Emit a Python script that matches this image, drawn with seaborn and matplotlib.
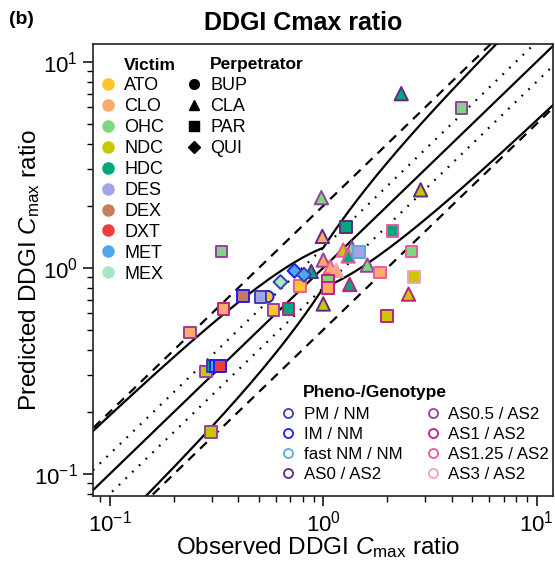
import numpy as np
import pandas as pd
import matplotlib
matplotlib.use("Agg")
import matplotlib.pyplot as plt
from matplotlib.lines import Line2D
import seaborn as sns

# ================================
# DATA
# ================================
observed = [2.32, 4.45, 2.86, 1.28, 2.11, 2.59, 1.85, 2.67, 2.51, 1.99,
            0.98, 0.99, 1.24, 1.36, 1.31, 1.47, 1.00, 1.61, 1.08, 1.15,
            0.733, 0.812, 0.879, 0.63, 0.78, 1.05, 1.05, 1.33, 1.00, 0.687,
            0.42, 0.508, 0.536, 0.55, 0.584, 0.34, 0.238, 0.334, 0.282, 0.302,
            0.315, 0.328, 0.298]
predicted = [7.0, 5.96, 2.39, 1.58, 1.51, 1.20, 0.95, 0.904, 0.745, 0.585,
             2.19, 1.42, 1.22, 1.25, 1.14, 1.19, 1.09, 1.03, 1.01, 0.97,
             0.967, 0.925, 0.96, 0.853, 0.818, 0.868, 0.80, 0.83, 0.667, 0.632,
             0.731, 0.721, 0.725, 0.725, 0.625, 0.632, 0.485, 1.20, 0.314, 0.334,
             0.334, 0.334, 0.159]
victim = ["HDC", "OHC", "NDC", "HDC", "HDC", "OHC", "CLO", "NDC", "NDC", "NDC",
          "OHC", "CLO", "NDC", "OHC", "HDC", "DES", "CLO", "OHC", "CLO", "CLO",
          "MET", "MET", "HDC", "MEX", "ATO", "OHC", "CLO", "HDC", "NDC", "HDC",
          "DEX", "DES", "ATO", "ATO", "ATO", "CLO", "CLO", "OHC", "NDC", "HDC",
          "MET", "DXT", "NDC"]
perpetrator = ["CLA", "PAR", "CLA", "PAR", "PAR", "PAR", "PAR", "PAR", "CLA", "PAR",
               "CLA", "CLA", "CLA", "CLA", "CLA", "PAR", "CLA", "CLA", "CLA", "CLA",
               "QUI", "QUI", "CLA", "QUI", "PAR", "PAR", "PAR", "CLA", "CLA", "PAR",
               "PAR", "PAR", "BUP", "BUP", "PAR", "PAR", "PAR", "PAR", "PAR", "PAR",
               "PAR", "PAR", "PAR"]
genotype = ["AS0 / AS2", "AS0.5 / AS2", "AS0 / AS2", "AS0 / AS2", "AS1.25 / AS2",
            "AS1.25 / AS2", "AS1.25 / AS2", "AS3 / AS2", "AS1 / AS2", "AS1 / AS2",
            "AS0.5 / AS2", "AS0 / AS2", "AS1.25 / AS2", "AS0.5 / AS2", "AS1.25 / AS2",
            "fast NM / NM", "AS0.5 / AS2", "AS0.5 / AS2", "AS1.25 / AS2", "AS3 / AS2",
            "IM / NM", "PM / NM", "AS0 / AS2", "PM / NM", "AS1.25 / AS2",
            "AS1 / AS2", "AS1 / AS2", "AS1 / AS2", "AS0 / AS2", "AS1 / AS2",
            "IM / NM", "PM / NM", "PM / NM", "IM / NM", "AS0.5 / AS2",
            "AS1 / AS2", "AS0.5 / AS2", "AS0.5 / AS2", "AS0.5 / AS2", "PM / NM",
            "IM / NM", "IM / NM", "AS0.5 / AS2"]

victim_names = ["ATO", "CLO", "OHC", "NDC", "HDC", "DES", "DEX", "DXT", "MET", "MEX"]
victim_colors = ["#FFC425", "#FDAA6A", "#7ED87E", "#C8C800", "#00A67E",
                 "#A3A3E6", "#C97B5C", "#F03C3C", "#4FA8EE", "#A6E8C6"]
perp_names = ["BUP", "CLA", "PAR", "QUI"]
perp_markers = ["o", "^", "s", "D"]
perp_sizes = [66, 92, 70, 50]
geno_names = ["PM / NM", "IM / NM", "fast NM / NM", "AS0 / AS2",
              "AS0.5 / AS2", "AS1 / AS2", "AS1.25 / AS2", "AS3 / AS2"]
geno_colors = ["#3C3CB4", "#1E1EF0", "#5AAAD8", "#5E2A84",
               "#9440A0", "#C0207F", "#EA5A9E", "#F7A0BE"]

df = pd.DataFrame({"Observed": observed, "Predicted": predicted, "Victim": victim,
                   "Perpetrator": perpetrator, "Genotype": genotype})
vpal = dict(zip(victim_names, victim_colors))
gpal = dict(zip(geno_names, geno_colors))

# ================================
# FIGURE
# ================================
sns.set_theme(style="ticks", rc={"text.color": "black", "axes.labelcolor": "black",
                                 "xtick.color": "black", "ytick.color": "black",
                                 "axes.edgecolor": "black"})
plt.rcParams["font.family"] = ["Liberation Sans", "DejaVu Sans"]
plt.rcParams["mathtext.fontset"] = "custom"
plt.rcParams["mathtext.rm"] = "Liberation Sans"
plt.rcParams["mathtext.it"] = "Liberation Sans:italic"

fig = plt.figure(figsize=(5.55, 5.62), dpi=100)
ax = fig.add_axes([92.7 / 555, 1 - 496 / 562, 460 / 555, 452 / 562])

# reference lines (identity, 1.25-fold, 2-fold, Guest limits)
r = np.logspace(np.log10(0.03), np.log10(30), 600)
rr = np.where(r >= 1, r, 1 / r)
lim = (1.25 + 2 * (rr - 1)) / rr
ax.plot(r, r, color="black", lw=1.6)
ax.plot(r, r * lim, color="black", lw=1.6)
ax.plot(r, r / lim, color="black", lw=1.6)
for f in [1.25, 0.8]:
    ax.plot(r, r * f, color="black", lw=1.6, dashes=(0.8, 3.4))
for f in [2, 0.5]:
    ax.plot(r, r * f, color="black", lw=1.6, dashes=(4.2, 3.2))

for p, m, s in zip(perp_names, perp_markers, perp_sizes):
    sub = df[df["Perpetrator"] == p]
    sns.scatterplot(data=sub, x="Observed", y="Predicted", hue="Victim", palette=vpal,
                    marker=m, s=s, linewidth=1.4,
                    edgecolor=[gpal[g] for g in sub["Genotype"]],
                    legend=False, ax=ax, zorder=3)

ax.set_xscale("log")
ax.set_yscale("log")
ax.set_xlim(0.083, 11.9)
ax.set_ylim(0.078, 12.2)
for sp in ax.spines.values():
    sp.set_linewidth(1.2)
    sp.set_color("#222222")
ax.tick_params(which="major", length=7, width=1.1, labelsize=16)
ax.tick_params(which="minor", length=4, width=1.0)

ax.set_xlabel(r"Observed DDGI $\mathit{C}_{\mathrm{max}}$ ratio", fontsize=17.5)
ax.set_ylabel(r"Predicted DDGI $\mathit{C}_{\mathrm{max}}$ ratio", fontsize=17.5)
ax.xaxis.set_label_coords(0.49, -0.086)
ax.yaxis.set_label_coords(-0.11, 0.5)

fig.text(303 / 555, 1 - 23 / 562, "DDGI Cmax ratio", fontsize=18, fontweight="bold",
         ha="center", va="center")
fig.text(9 / 555, 1 - 20 / 562, "(b)", fontsize=14, fontweight="bold",
         ha="left", va="center")

# ================================
# LEGENDS
# ================================
leg_kw = dict(frameon=False, handlelength=1.0, handletextpad=0.4,
              borderpad=0, borderaxespad=0, loc="upper left",
              bbox_transform=fig.transFigure)

vh = [Line2D([], [], ls="", marker="o", markersize=8, markerfacecolor=c,
             markeredgecolor=c) for c in victim_colors]
leg1 = ax.legend(vh, victim_names, bbox_to_anchor=(99 / 555, 1 - 77 / 562),
                 fontsize=13, labelspacing=0.22, **leg_kw)
ax.add_artist(leg1)

ph = [Line2D([], [], ls="", marker=m, markersize=7 if m != "D" else 6,
             color="black") for m in perp_markers]
leg2 = ax.legend(ph, perp_names, bbox_to_anchor=(185 / 555, 1 - 77 / 562),
                 fontsize=13, labelspacing=0.22, **leg_kw)
ax.add_artist(leg2)

gh = [Line2D([], [], ls="", marker="o", markersize=6.5, markerfacecolor="none",
             markeredgecolor=c, markeredgewidth=1.3) for c in geno_colors]
leg3 = ax.legend(gh, geno_names, ncol=2, columnspacing=1.3, fontsize=12.2,
                 labelspacing=0.3, bbox_to_anchor=(280 / 555, 1 - 407 / 562), **leg_kw)

fig.text(124 / 555, 1 - 65 / 562, "Victim", fontsize=12.5, fontweight="bold", va="center")
fig.text(210 / 555, 1 - 65 / 562, "Perpetrator", fontsize=12.5, fontweight="bold", va="center")
fig.text(303 / 555, 1 - 392 / 562, "Pheno-/Genotype", fontsize=12.5, fontweight="bold",
         va="center")

fig.savefig("out.png", dpi=100)
